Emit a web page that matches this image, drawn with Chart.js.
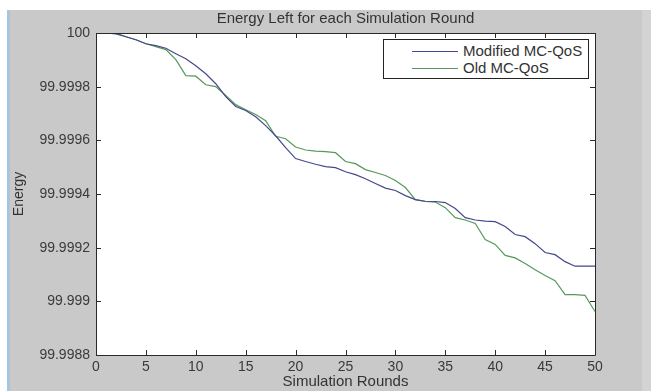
<!DOCTYPE html>
<html>
<head>
<meta charset="utf-8">
<script src="https://cdn.jsdelivr.net/npm/chart.js@4.4.1/dist/chart.umd.min.js"></script>
<style>
    body { margin: 0; background: #fff; }
    #wrap { position: relative; width: 651px; height: 391px; }
    #legend {
        position: absolute; left: 383px; top: 39px; width: 204px; height: 38px;
        border: 1px solid #222; background: #fff;
        font: 15px "Liberation Sans", Arial, sans-serif; color: #333;
    }
    .row { position: absolute; left: 0; width: 100%; height: 18px; }
    .swatch { position: absolute; left: 28px; top: 9px; width: 46px; height: 0; border-top: 1px solid; }
    .label { position: absolute; left: 79px; top: 0; line-height: 18px; white-space: nowrap; }
</style>
</head>
<body>
<div id="wrap">
    <canvas id="energyChart" width="651" height="391"></canvas>
    <div id="legend"></div>
</div>
<script>
const rounds = [1, 2, 3, 4, 5, 6, 7, 8, 9, 10, 11, 12, 13, 14, 15, 16, 17, 18, 19, 20,
    21, 22, 23, 24, 25, 26, 27, 28, 29, 30, 31, 32, 33, 34, 35, 36, 37, 38, 39, 40,
    41, 42, 43, 44, 45, 46, 47, 48, 49, 50];

const modifiedEnergy = [100.0000, 99.999997, 99.999986, 99.999975, 99.999960, 99.999953, 99.999943, 99.999923, 99.999904, 99.999878,
    99.999848, 99.999811, 99.999763, 99.999726, 99.999711, 99.999688, 99.999655, 99.999617, 99.999573, 99.999532,
    99.999521, 99.999511, 99.999502, 99.999498, 99.999483, 99.999472, 99.999457, 99.999439, 99.999422, 99.999413,
    99.999394, 99.999379, 99.999373, 99.999372, 99.999368, 99.999346, 99.999312, 99.999303, 99.999299, 99.999297,
    99.999279, 99.999249, 99.999241, 99.999215, 99.999182, 99.999174, 99.999148, 99.999131, 99.999131, 99.999131];

const oldEnergy = [100.0000, 100.0000, 99.999986, 99.999975, 99.999960, 99.999949, 99.999938, 99.999901, 99.999841, 99.999839,
    99.999807, 99.999800, 99.999767, 99.999733, 99.999714, 99.999696, 99.999673, 99.999615, 99.999606, 99.999575,
    99.999564, 99.999560, 99.999558, 99.999554, 99.999521, 99.999513, 99.999491, 99.999480, 99.999469, 99.999450,
    99.999424, 99.999379, 99.999372, 99.999370, 99.999349, 99.999312, 99.999303, 99.999290, 99.999230, 99.999212,
    99.999171, 99.999162, 99.999141, 99.999118, 99.999096, 99.999077, 99.999025, 99.999025, 99.999022, 99.998962];

const xTicks = [0, 5, 10, 15, 20, 25, 30, 35, 40, 45, 50];
const yTicks = [99.9988, 99.999, 99.9992, 99.9994, 99.9996, 99.9998, 100];
const yTickLabels = ['99.9988', '99.999', '99.9992', '99.9994', '99.9996', '99.9998', '100'];

const seriesNames = ['Modified MC-QoS', 'Old MC-QoS'];
const seriesColors = ['#45488c', '#559a5a'];

Chart.defaults.font.family = '"Liberation Sans", Arial, Helvetica, sans-serif';
Chart.defaults.color = '#3a3a3a';

// grey figure background, white axes, box with inward ticks (matlab look)
const matlabFrame = {
    id: 'matlabFrame',
    beforeDraw(chart) {
        const ctx = chart.ctx;
        const a = chart.chartArea;
        ctx.save();
        ctx.fillStyle = '#ffffff';
        ctx.fillRect(0, 0, chart.width, chart.height);
        ctx.fillStyle = '#c9c9c9';
        ctx.fillRect(10, 10, 632, chart.height - 10);
        ctx.fillStyle = '#d3d3d3';
        ctx.fillRect(642, 10, chart.width - 642, chart.height - 10);
        ctx.fillStyle = '#a9c4dc';
        ctx.fillRect(7, 10, 3, chart.height - 10);
        ctx.fillStyle = '#ffffff';
        ctx.fillRect(a.left, a.top, a.right - a.left, a.bottom - a.top);
        ctx.restore();
    },
    afterDatasetsDraw(chart) {
        const ctx = chart.ctx;
        const a = chart.chartArea;
        const xs = chart.scales.x;
        const ys = chart.scales.y;
        const tl = 5;
        ctx.save();
        ctx.strokeStyle = '#2a2a2a';
        ctx.lineWidth = 1;
        ctx.beginPath();
        ctx.rect(Math.round(a.left) + 0.5, Math.round(a.top) + 0.5,
            Math.round(a.right - a.left), Math.round(a.bottom - a.top));
        xTicks.forEach(v => {
            const px = Math.round(xs.getPixelForValue(v)) + 0.5;
            ctx.moveTo(px, a.bottom);
            ctx.lineTo(px, a.bottom - tl);
            ctx.moveTo(px, a.top);
            ctx.lineTo(px, a.top + tl);
        });
        yTicks.forEach(v => {
            const py = Math.round(ys.getPixelForValue(v)) + 0.5;
            ctx.moveTo(a.left, py);
            ctx.lineTo(a.left + tl, py);
            ctx.moveTo(a.right, py);
            ctx.lineTo(a.right - tl, py);
        });
        ctx.stroke();
        ctx.restore();
    }
};

function buildDataset(label, values, color) {
    return {
        label: label,
        data: rounds.map((r, i) => ({ x: r, y: values[i] })),
        borderColor: color,
        backgroundColor: color,
        borderWidth: 1.2,
        pointRadius: 0,
        tension: 0,
        fill: false
    };
}

const ctx = document.getElementById('energyChart').getContext('2d');
const chart = new Chart(ctx, {
    type: 'line',
    data: {
        datasets: [
            buildDataset(seriesNames[0], modifiedEnergy, seriesColors[0]),
            buildDataset(seriesNames[1], oldEnergy, seriesColors[1])
        ]
    },
    plugins: [matlabFrame],
    options: {
        responsive: false,
        animation: false,
        events: [],
        layout: { padding: { left: 0, right: 56, top: 0, bottom: 0 } },
        plugins: {
            legend: { display: false },
            tooltip: { enabled: false },
            title: {
                display: true,
                fullSize: false,
                text: 'Energy Left for each Simulation Round',
                color: '#333',
                font: { size: 15, weight: 'normal' },
                padding: { top: 10, bottom: 5 }
            }
        },
        scales: {
            x: {
                type: 'linear',
                min: 0,
                max: 50,
                afterBuildTicks: s => { s.ticks = xTicks.map(v => ({ value: v })); },
                afterFit: s => { s.height = 36; },
                grid: { display: false, drawTicks: false },
                border: { display: false },
                ticks: { padding: 4, font: { size: 14 }, maxRotation: 0, autoSkip: false },
                title: {
                    display: true,
                    text: 'Simulation Rounds',
                    color: '#333',
                    font: { size: 15 },
                    padding: { top: 0, bottom: 0 }
                }
            },
            y: {
                type: 'linear',
                min: 99.9988,
                max: 100,
                afterBuildTicks: s => { s.ticks = yTicks.map(v => ({ value: v })); },
                afterFit: s => { s.width = 96; },
                grid: { display: false, drawTicks: false },
                border: { display: false },
                ticks: {
                    padding: 6,
                    font: { size: 14 },
                    autoSkip: false,
                    callback: (value, index) => yTickLabels[index]
                },
                title: {
                    display: true,
                    text: 'Energy',
                    color: '#333',
                    font: { size: 14 },
                    padding: { top: 11, bottom: 0 }
                }
            }
        }
    }
});

// legend box drawn inside the axes, upper right
const legendEl = document.getElementById('legend');
chart.data.datasets.forEach((ds, i) => {
    const row = document.createElement('div');
    row.className = 'row';
    row.style.top = (2 + i * 17) + 'px';
    row.innerHTML = `<span class="swatch" style="border-color:${ds.borderColor}"></span><span class="label">${ds.label}</span>`;
    legendEl.appendChild(row);
});
</script>
</body>
</html>
